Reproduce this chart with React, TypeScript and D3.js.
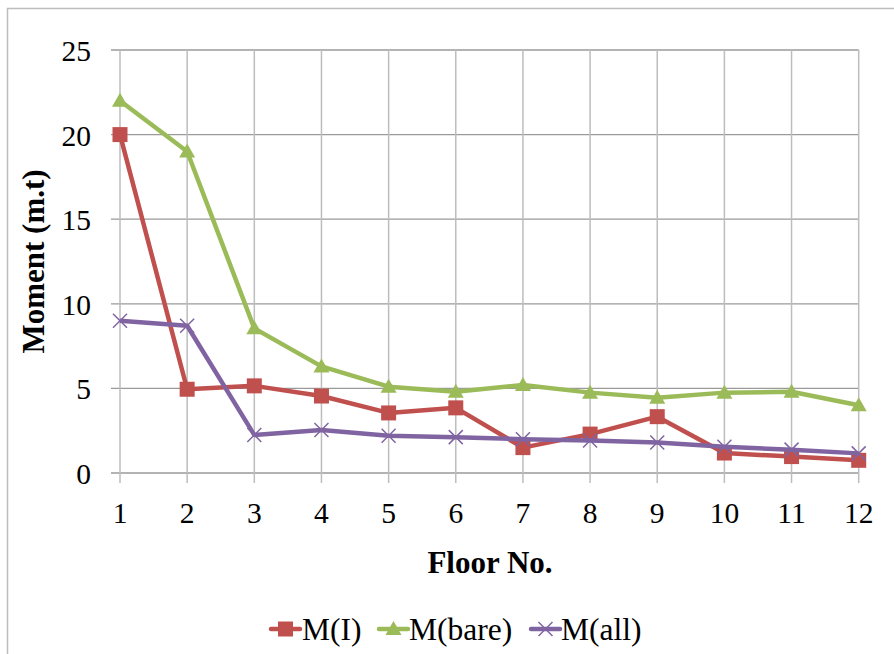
import React from "react";
import * as d3 from "d3";

const floors = [1, 2, 3, 4, 5, 6, 7, 8, 9, 10, 11, 12];
const mI = [20, 4.95, 5.15, 4.55, 3.55, 3.85, 1.5, 2.3, 3.33, 1.18, 0.97, 0.75];
const mBare = [22, 19, 8.55, 6.3, 5.1, 4.8, 5.2, 4.75, 4.45, 4.75, 4.8, 4.0];
const mAll = [9.0, 8.7, 2.25, 2.54, 2.2, 2.12, 2.0, 1.92, 1.8, 1.55, 1.38, 1.16];
const yTicks = [0, 5, 10, 15, 20, 25];

const series = [
  { name: "M(I)", values: mI, color: "#C0504D", marker: "square" },
  { name: "M(bare)", values: mBare, color: "#9BBB59", marker: "triangle" },
  { name: "M(all)", values: mAll, color: "#8064A2", marker: "x" },
];

const W = 894;
const H = 654;
const left = 120;
const right = 858.7;
const top = 50;
const bottom = 473;
const font = "'Liberation Serif', 'Times New Roman', serif";

function Marker({ type, x, y, color }: { type: string; x: number; y: number; color: string }) {
  if (type === "square") {
    return <rect x={x - 7.5} y={y - 7.5} width={15} height={15} fill={color} />;
  }
  if (type === "triangle") {
    const s = 16;
    const h = 14;
    return (
      <path
        d={`M${x},${y - h / 2 - 1} L${x + s / 2},${y + h / 2 - 1} L${x - s / 2},${y + h / 2 - 1} Z`}
        fill={color}
      />
    );
  }
  const r = 7;
  return (
    <path
      d={`M${x - r},${y - r} L${x + r},${y + r} M${x - r},${y + r} L${x + r},${y - r}`}
      stroke={color}
      strokeWidth={1.5}
      fill="none"
    />
  );
}

export default function App() {
  const x = d3.scalePoint<number>().domain(floors).range([left, right]);
  const y = d3.scaleLinear().domain([0, 25]).range([bottom, top]);
  const line = d3
    .line<number>()
    .x((_, i) => x(floors[i]) as number)
    .y((d) => y(d));

  const legendItems = [
    { lx: 271, tx: 302 },
    { lx: 379, tx: 409 },
    { lx: 531, tx: 561 },
  ];

  return (
    <svg
      width={W}
      height={H}
      style={{ position: "absolute", left: 0, top: 0, background: "#fff" }}
      fontFamily={font}
    >
      <rect x={7.5} y={8.5} width={W + 10} height={H + 10} fill="#fff" stroke="#bdbdbd" strokeWidth={1.5} />
      {yTicks.map((t) => (
        <line key={"h" + t} x1={left - 9} x2={right} y1={y(t)} y2={y(t)} stroke="#9a9a9a" strokeWidth={1.3} />
      ))}
      {floors.map((f) => (
        <line
          key={"v" + f}
          x1={x(f)}
          x2={x(f)}
          y1={top}
          y2={bottom + 10}
          stroke="#bdbdbd"
          strokeWidth={1.5}
        />
      ))}
      {yTicks.map((t) => (
        <text key={"yl" + t} x={91} y={y(t) + 11} textAnchor="end" fontSize={29.5} fill="#000">
          {t}
        </text>
      ))}
      {floors.map((f) => (
        <text key={"xl" + f} x={x(f)} y={523} textAnchor="middle" fontSize={29.5} fill="#000">
          {f}
        </text>
      ))}
      <text
        transform={`translate(44, ${(top + bottom) / 2}) rotate(-90)`}
        textAnchor="middle"
        fontSize={31}
        fontWeight="bold"
      >
        Moment (m.t)
      </text>
      <text x={490} y={573} textAnchor="middle" fontSize={31} fontWeight="bold">
        Floor No.
      </text>
      {series.map((s) => (
        <g key={s.name}>
          <path d={line(s.values) || ""} fill="none" stroke={s.color} strokeWidth={4.5} strokeLinejoin="round" />
          {s.values.map((v, i) => (
            <Marker key={i} type={s.marker} x={x(floors[i]) as number} y={y(v)} color={s.color} />
          ))}
        </g>
      ))}
      {series.map((s, i) => {
        const it = legendItems[i];
        const cy = 629;
        return (
          <g key={"lg" + s.name}>
            <line x1={it.lx} x2={it.lx + 29} y1={cy} y2={cy} stroke={s.color} strokeWidth={4.5} strokeLinecap="round" />
            <Marker type={s.marker} x={it.lx + 14.5} y={cy} color={s.color} />
            <text x={it.tx} y={640} fontSize={31.5} fill="#000">
              {s.name}
            </text>
          </g>
        );
      })}
    </svg>
  );
}
